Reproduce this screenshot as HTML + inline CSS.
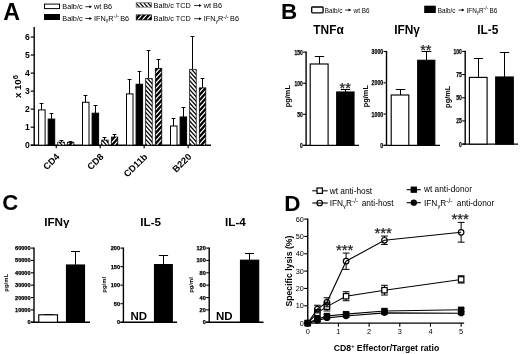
<!DOCTYPE html>
<html><head><meta charset="utf-8"><title>Figure</title>
<style>html,body{margin:0;padding:0;background:#fff;}svg{display:block;will-change:transform;filter:grayscale(1);}text{font-family:"Liberation Sans",sans-serif;}</style>
</head><body>
<svg width="520" height="354" viewBox="0 0 520 354">
<rect x="0" y="0" width="520" height="354" fill="#fff"/>

<text x="3.30" y="19.80" font-size="23.2" font-weight="bold" text-anchor="start" fill="#000" font-family="Liberation Sans, sans-serif" >A</text>
<rect x="44.50" y="4.10" width="15.00" height="4.50" fill="#fff" stroke="#000" stroke-width="1"/>
<rect x="44.00" y="14.00" width="16.00" height="6.00" fill="#000" stroke="none" stroke-width="0"/>
<text x="62.30" y="9.10" font-size="7.3" font-weight="normal" text-anchor="start" fill="#000" font-family="Liberation Sans, sans-serif" >Balb/c</text>
<line x1="85.30" y1="6.69" x2="91.00" y2="6.69" stroke="#000" stroke-width="0.8"/>
<path d="M92.00,6.69 L89.40,5.19 L89.40,8.19 Z" fill="#000"/>
<text x="93.90" y="9.10" font-size="7.3" font-weight="normal" text-anchor="start" fill="#000" font-family="Liberation Sans, sans-serif" >wt B6</text>
<text x="62.30" y="20.90" font-size="7.3" font-weight="normal" text-anchor="start" fill="#000" font-family="Liberation Sans, sans-serif" >Balb/c</text>
<line x1="85.30" y1="18.49" x2="91.00" y2="18.49" stroke="#000" stroke-width="0.8"/>
<path d="M92.00,18.49 L89.40,16.99 L89.40,19.99 Z" fill="#000"/>
<text x="93.90" y="20.90" font-size="7.3" font-weight="normal" text-anchor="start" fill="#000" font-family="Liberation Sans, sans-serif" >IFN<tspan font-size="70%" dy="1.5">γ</tspan><tspan dy="-1.5">R</tspan><tspan font-size="80%" dy="-2.6">-/-</tspan><tspan dy="2.6" dx="-0.8"> </tspan>B6</text>
<clipPath id="c1"><rect x="136.20" y="2.80" width="15.30" height="4.30"/></clipPath>
<rect x="136.20" y="2.80" width="15.30" height="4.30" fill="#fff"/>
<path d="M131.70,2.80L135.57,7.10M135.74,2.80L139.61,7.10M139.78,2.80L143.65,7.10M143.81,2.80L147.68,7.10M147.85,2.80L151.72,7.10M151.89,2.80L155.76,7.10" stroke="#000" stroke-width="1.25" fill="none" clip-path="url(#c1)"/>
<rect x="136.20" y="2.80" width="15.30" height="4.30" fill="none" stroke="#444" stroke-width="0.7"/>
<clipPath id="c2"><rect x="136.20" y="14.90" width="15.30" height="5.00"/></clipPath>
<rect x="136.20" y="14.90" width="15.30" height="5.00" fill="#000"/>
<path d="M137.29,14.90L132.79,19.90M142.00,14.90L137.50,19.90M146.71,14.90L142.21,19.90M151.42,14.90L146.92,19.90M156.13,14.90L151.63,19.90" stroke="#fff" stroke-width="1.2" fill="none" clip-path="url(#c2)"/>
<rect x="136.20" y="14.90" width="15.30" height="5.00" fill="none" stroke="#000" stroke-width="0.7"/>
<text x="153.60" y="7.90" font-size="7.3" font-weight="normal" text-anchor="start" fill="#000" font-family="Liberation Sans, sans-serif" >Balb/c TCD</text>
<line x1="194.20" y1="5.49" x2="200.60" y2="5.49" stroke="#000" stroke-width="0.8"/>
<path d="M201.60,5.49 L199.00,3.99 L199.00,6.99 Z" fill="#000"/>
<text x="203.70" y="7.90" font-size="7.3" font-weight="normal" text-anchor="start" fill="#000" font-family="Liberation Sans, sans-serif" >wt B6</text>
<text x="153.60" y="21.10" font-size="7.3" font-weight="normal" text-anchor="start" fill="#000" font-family="Liberation Sans, sans-serif" >Balb/c TCD</text>
<line x1="194.20" y1="18.69" x2="200.60" y2="18.69" stroke="#000" stroke-width="0.8"/>
<path d="M201.60,18.69 L199.00,17.19 L199.00,20.19 Z" fill="#000"/>
<text x="203.70" y="21.10" font-size="7.3" font-weight="normal" text-anchor="start" fill="#000" font-family="Liberation Sans, sans-serif" >IFN<tspan font-size="70%" dy="1.5">γ</tspan><tspan dy="-1.5">R</tspan><tspan font-size="80%" dy="-2.6">-/-</tspan><tspan dy="2.6" dx="-0.8"> </tspan>B6</text>
<line x1="34.20" y1="27.00" x2="34.20" y2="145.80" stroke="#000" stroke-width="1.4"/>
<line x1="30.70" y1="145.20" x2="211.00" y2="145.20" stroke="#000" stroke-width="1.4"/>
<line x1="30.70" y1="145.20" x2="34.20" y2="145.20" stroke="#000" stroke-width="1.2"/>
<text x="29.70" y="148.30" font-size="8.6" font-weight="bold" text-anchor="end" fill="#000" font-family="Liberation Sans, sans-serif" >0</text>
<line x1="30.70" y1="127.17" x2="34.20" y2="127.17" stroke="#000" stroke-width="1.2"/>
<text x="29.70" y="130.27" font-size="8.6" font-weight="bold" text-anchor="end" fill="#000" font-family="Liberation Sans, sans-serif" >1</text>
<line x1="30.70" y1="109.14" x2="34.20" y2="109.14" stroke="#000" stroke-width="1.2"/>
<text x="29.70" y="112.24" font-size="8.6" font-weight="bold" text-anchor="end" fill="#000" font-family="Liberation Sans, sans-serif" >2</text>
<line x1="30.70" y1="91.11" x2="34.20" y2="91.11" stroke="#000" stroke-width="1.2"/>
<text x="29.70" y="94.21" font-size="8.6" font-weight="bold" text-anchor="end" fill="#000" font-family="Liberation Sans, sans-serif" >3</text>
<line x1="30.70" y1="73.08" x2="34.20" y2="73.08" stroke="#000" stroke-width="1.2"/>
<text x="29.70" y="76.18" font-size="8.6" font-weight="bold" text-anchor="end" fill="#000" font-family="Liberation Sans, sans-serif" >4</text>
<line x1="30.70" y1="55.05" x2="34.20" y2="55.05" stroke="#000" stroke-width="1.2"/>
<text x="29.70" y="58.15" font-size="8.6" font-weight="bold" text-anchor="end" fill="#000" font-family="Liberation Sans, sans-serif" >5</text>
<line x1="30.70" y1="37.02" x2="34.20" y2="37.02" stroke="#000" stroke-width="1.2"/>
<text x="29.70" y="40.12" font-size="8.6" font-weight="bold" text-anchor="end" fill="#000" font-family="Liberation Sans, sans-serif" >6</text>
<text transform="translate(21.40,86.60) rotate(-90)" font-size="9.6" font-weight="bold" text-anchor="middle" font-family="Liberation Sans, sans-serif">x 10<tspan font-size="78%" dy="-3.2">6</tspan></text>
<line x1="41.50" y1="103.50" x2="41.50" y2="109.90" stroke="#000" stroke-width="1"/>
<line x1="39.60" y1="103.50" x2="43.40" y2="103.50" stroke="#000" stroke-width="1"/>
<rect x="38.60" y="109.90" width="6.50" height="35.30" fill="#fff" stroke="#000" stroke-width="1"/>
<line x1="51.50" y1="113.50" x2="51.50" y2="119.09" stroke="#000" stroke-width="1"/>
<line x1="49.60" y1="113.50" x2="53.40" y2="113.50" stroke="#000" stroke-width="1"/>
<rect x="48.20" y="119.09" width="6.50" height="26.11" fill="#000" stroke="#000" stroke-width="1"/>
<line x1="61.50" y1="140.50" x2="61.50" y2="142.10" stroke="#000" stroke-width="1"/>
<line x1="59.60" y1="140.50" x2="63.40" y2="140.50" stroke="#000" stroke-width="1"/>
<clipPath id="c3"><rect x="57.80" y="142.10" width="6.50" height="3.10"/></clipPath>
<rect x="57.80" y="142.10" width="6.50" height="3.10" fill="#fff"/>
<path d="M55.28,142.10L58.07,145.20M59.32,142.10L62.11,145.20M63.36,142.10L66.15,145.20" stroke="#000" stroke-width="1.25" fill="none" clip-path="url(#c3)"/>
<rect x="57.80" y="142.10" width="6.50" height="3.10" fill="none" stroke="#000" stroke-width="0.75"/>
<line x1="70.50" y1="141.50" x2="70.50" y2="142.32" stroke="#000" stroke-width="1"/>
<line x1="68.60" y1="141.50" x2="72.40" y2="141.50" stroke="#000" stroke-width="1"/>
<clipPath id="c4"><rect x="67.40" y="142.32" width="6.50" height="2.88"/></clipPath>
<rect x="67.40" y="142.32" width="6.50" height="2.88" fill="#000"/>
<path d="M69.67,142.32L67.07,145.20M74.38,142.32L71.78,145.20" stroke="#fff" stroke-width="1.2" fill="none" clip-path="url(#c4)"/>
<rect x="67.40" y="142.32" width="6.50" height="2.88" fill="none" stroke="#000" stroke-width="0.75"/>
<line x1="56.25" y1="145.20" x2="56.25" y2="148.20" stroke="#000" stroke-width="1.2"/>
<text transform="translate(60.15,157.40) rotate(-45)" font-size="9.3" font-weight="bold" text-anchor="end" font-family="Liberation Sans, sans-serif">CD4</text>
<line x1="85.50" y1="95.50" x2="85.50" y2="102.29" stroke="#000" stroke-width="1"/>
<line x1="83.60" y1="95.50" x2="87.40" y2="95.50" stroke="#000" stroke-width="1"/>
<rect x="82.50" y="102.29" width="6.50" height="42.91" fill="#fff" stroke="#000" stroke-width="1"/>
<line x1="95.50" y1="105.50" x2="95.50" y2="113.20" stroke="#000" stroke-width="1"/>
<line x1="93.60" y1="105.50" x2="97.40" y2="105.50" stroke="#000" stroke-width="1"/>
<rect x="92.10" y="113.20" width="6.50" height="32.00" fill="#000" stroke="#000" stroke-width="1"/>
<line x1="104.50" y1="137.50" x2="104.50" y2="140.10" stroke="#000" stroke-width="1"/>
<line x1="102.60" y1="137.50" x2="106.40" y2="137.50" stroke="#000" stroke-width="1"/>
<clipPath id="c5"><rect x="101.70" y="140.10" width="6.50" height="5.10"/></clipPath>
<rect x="101.70" y="140.10" width="6.50" height="5.10" fill="#fff"/>
<path d="M97.89,140.10L102.48,145.20M101.92,140.10L106.52,145.20M105.96,140.10L110.55,145.20" stroke="#000" stroke-width="1.25" fill="none" clip-path="url(#c5)"/>
<rect x="101.70" y="140.10" width="6.50" height="5.10" fill="none" stroke="#000" stroke-width="0.75"/>
<line x1="114.50" y1="134.50" x2="114.50" y2="137.00" stroke="#000" stroke-width="1"/>
<line x1="112.60" y1="134.50" x2="116.40" y2="134.50" stroke="#000" stroke-width="1"/>
<clipPath id="c6"><rect x="111.30" y="137.00" width="6.50" height="8.20"/></clipPath>
<rect x="111.30" y="137.00" width="6.50" height="8.20" fill="#000"/>
<path d="M112.13,137.00L104.75,145.20M116.84,137.00L109.46,145.20M121.55,137.00L114.17,145.20" stroke="#fff" stroke-width="1.2" fill="none" clip-path="url(#c6)"/>
<rect x="111.30" y="137.00" width="6.50" height="8.20" fill="none" stroke="#000" stroke-width="0.75"/>
<line x1="100.15" y1="145.20" x2="100.15" y2="148.20" stroke="#000" stroke-width="1.2"/>
<text transform="translate(104.05,157.40) rotate(-45)" font-size="9.3" font-weight="bold" text-anchor="end" font-family="Liberation Sans, sans-serif">CD8</text>
<line x1="129.50" y1="79.50" x2="129.50" y2="93.90" stroke="#000" stroke-width="1"/>
<line x1="127.60" y1="79.50" x2="131.40" y2="79.50" stroke="#000" stroke-width="1"/>
<rect x="126.50" y="93.90" width="6.50" height="51.30" fill="#fff" stroke="#000" stroke-width="1"/>
<line x1="139.50" y1="71.50" x2="139.50" y2="84.26" stroke="#000" stroke-width="1"/>
<line x1="137.60" y1="71.50" x2="141.40" y2="71.50" stroke="#000" stroke-width="1"/>
<rect x="136.10" y="84.26" width="6.50" height="60.94" fill="#000" stroke="#000" stroke-width="1"/>
<line x1="148.50" y1="50.50" x2="148.50" y2="78.40" stroke="#000" stroke-width="1"/>
<line x1="146.60" y1="50.50" x2="150.40" y2="50.50" stroke="#000" stroke-width="1"/>
<clipPath id="c7"><rect x="145.70" y="78.40" width="6.50" height="66.80"/></clipPath>
<rect x="145.70" y="78.40" width="6.50" height="66.80" fill="#fff"/>
<path d="M86.74,78.40L146.89,145.20M90.78,78.40L150.92,145.20M94.81,78.40L154.96,145.20M98.85,78.40L159.00,145.20M102.89,78.40L163.03,145.20M106.92,78.40L167.07,145.20M110.96,78.40L171.11,145.20M115.00,78.40L175.14,145.20M119.03,78.40L179.18,145.20M123.07,78.40L183.22,145.20M127.11,78.40L187.26,145.20M131.14,78.40L191.29,145.20M135.18,78.40L195.33,145.20M139.22,78.40L199.37,145.20M143.25,78.40L203.40,145.20M147.29,78.40L207.44,145.20M151.33,78.40L211.48,145.20" stroke="#000" stroke-width="1.25" fill="none" clip-path="url(#c7)"/>
<rect x="145.70" y="78.40" width="6.50" height="66.80" fill="none" stroke="#000" stroke-width="0.75"/>
<line x1="158.50" y1="59.50" x2="158.50" y2="68.30" stroke="#000" stroke-width="1"/>
<line x1="156.60" y1="59.50" x2="160.40" y2="59.50" stroke="#000" stroke-width="1"/>
<clipPath id="c8"><rect x="155.30" y="68.30" width="6.50" height="76.90"/></clipPath>
<rect x="155.30" y="68.30" width="6.50" height="76.90" fill="#000"/>
<path d="M155.15,68.30L85.91,145.20M159.86,68.30L90.62,145.20M164.57,68.30L95.33,145.20M169.28,68.30L100.04,145.20M173.99,68.30L104.75,145.20M178.70,68.30L109.46,145.20M183.41,68.30L114.17,145.20M188.12,68.30L118.88,145.20M192.83,68.30L123.59,145.20M197.53,68.30L128.30,145.20M202.24,68.30L133.01,145.20M206.95,68.30L137.72,145.20M211.66,68.30L142.42,145.20M216.37,68.30L147.13,145.20M221.08,68.30L151.84,145.20M225.79,68.30L156.55,145.20M230.50,68.30L161.26,145.20" stroke="#fff" stroke-width="1.2" fill="none" clip-path="url(#c8)"/>
<rect x="155.30" y="68.30" width="6.50" height="76.90" fill="none" stroke="#000" stroke-width="0.75"/>
<line x1="144.15" y1="145.20" x2="144.15" y2="148.20" stroke="#000" stroke-width="1.2"/>
<text transform="translate(148.05,157.40) rotate(-45)" font-size="9.3" font-weight="bold" text-anchor="end" font-family="Liberation Sans, sans-serif">CD11b</text>
<line x1="173.50" y1="118.50" x2="173.50" y2="126.00" stroke="#000" stroke-width="1"/>
<line x1="171.60" y1="118.50" x2="175.40" y2="118.50" stroke="#000" stroke-width="1"/>
<rect x="170.50" y="126.00" width="6.50" height="19.20" fill="#fff" stroke="#000" stroke-width="1"/>
<line x1="183.50" y1="107.50" x2="183.50" y2="116.98" stroke="#000" stroke-width="1"/>
<line x1="181.60" y1="107.50" x2="185.40" y2="107.50" stroke="#000" stroke-width="1"/>
<rect x="180.10" y="116.98" width="6.50" height="28.22" fill="#000" stroke="#000" stroke-width="1"/>
<line x1="192.50" y1="36.50" x2="192.50" y2="69.29" stroke="#000" stroke-width="1"/>
<line x1="190.60" y1="36.50" x2="194.40" y2="36.50" stroke="#000" stroke-width="1"/>
<clipPath id="c9"><rect x="189.70" y="69.29" width="6.50" height="75.91"/></clipPath>
<rect x="189.70" y="69.29" width="6.50" height="75.91" fill="#fff"/>
<path d="M122.95,69.29L191.29,145.20M126.98,69.29L195.33,145.20M131.02,69.29L199.37,145.20M135.06,69.29L203.40,145.20M139.09,69.29L207.44,145.20M143.13,69.29L211.48,145.20M147.17,69.29L215.51,145.20M151.20,69.29L219.55,145.20M155.24,69.29L223.59,145.20M159.28,69.29L227.62,145.20M163.31,69.29L231.66,145.20M167.35,69.29L235.70,145.20M171.39,69.29L239.73,145.20M175.43,69.29L243.77,145.20M179.46,69.29L247.81,145.20M183.50,69.29L251.85,145.20M187.54,69.29L255.88,145.20M191.57,69.29L259.92,145.20M195.61,69.29L263.96,145.20" stroke="#000" stroke-width="1.25" fill="none" clip-path="url(#c9)"/>
<rect x="189.70" y="69.29" width="6.50" height="75.91" fill="none" stroke="#000" stroke-width="0.75"/>
<line x1="202.50" y1="78.50" x2="202.50" y2="87.86" stroke="#000" stroke-width="1"/>
<line x1="200.60" y1="78.50" x2="204.40" y2="78.50" stroke="#000" stroke-width="1"/>
<clipPath id="c10"><rect x="199.30" y="87.86" width="6.50" height="57.34"/></clipPath>
<rect x="199.30" y="87.86" width="6.50" height="57.34" fill="#000"/>
<path d="M198.76,87.86L147.13,145.20M203.47,87.86L151.84,145.20M208.18,87.86L156.55,145.20M212.89,87.86L161.26,145.20M217.60,87.86L165.97,145.20M222.31,87.86L170.68,145.20M227.02,87.86L175.39,145.20M231.73,87.86L180.10,145.20M236.44,87.86L184.81,145.20M241.15,87.86L189.52,145.20M245.86,87.86L194.23,145.20M250.57,87.86L198.94,145.20M255.28,87.86L203.65,145.20" stroke="#fff" stroke-width="1.2" fill="none" clip-path="url(#c10)"/>
<rect x="199.30" y="87.86" width="6.50" height="57.34" fill="none" stroke="#000" stroke-width="0.75"/>
<line x1="188.15" y1="145.20" x2="188.15" y2="148.20" stroke="#000" stroke-width="1.2"/>
<text transform="translate(192.05,157.40) rotate(-45)" font-size="9.3" font-weight="bold" text-anchor="end" font-family="Liberation Sans, sans-serif">B220</text>
<text x="281.00" y="18.60" font-size="22.4" font-weight="bold" text-anchor="start" fill="#000" font-family="Liberation Sans, sans-serif" >B</text>
<rect x="311.7" y="7.0" width="11.4" height="5.8" rx="0.8" fill="#fff" stroke="#000" stroke-width="1.3"/>
<text transform="translate(324.80,12.60) scale(0.84,1)" font-size="7.6" font-family="Liberation Sans, sans-serif">Balb/c</text>
<line x1="345.20" y1="10.09" x2="350.20" y2="10.09" stroke="#000" stroke-width="0.8"/>
<path d="M351.20,10.09 L348.60,8.59 L348.60,11.59 Z" fill="#000"/>
<text transform="translate(353.60,12.60) scale(0.84,1)" font-size="7.6" font-family="Liberation Sans, sans-serif">wt B6</text>
<rect x="424.20" y="5.70" width="11.60" height="7.30" fill="#000" stroke="none" stroke-width="0"/>
<text transform="translate(437.80,12.60) scale(0.84,1)" font-size="7.6" font-family="Liberation Sans, sans-serif">Balb/c</text>
<line x1="458.40" y1="10.09" x2="463.40" y2="10.09" stroke="#000" stroke-width="0.8"/>
<path d="M464.40,10.09 L461.80,8.59 L461.80,11.59 Z" fill="#000"/>
<text transform="translate(466.50,12.60) scale(0.84,1)" font-size="7.6" font-family="Liberation Sans, sans-serif">IFN<tspan font-size="70%" dy="1.5">γ</tspan><tspan dy="-1.5">R</tspan><tspan font-size="80%" dy="-2.6">-/-</tspan><tspan dy="2.6" dx="-0.8"> </tspan>B6</text>
<line x1="306.10" y1="51.50" x2="306.10" y2="146.00" stroke="#000" stroke-width="1.4"/>
<line x1="303.10" y1="145.40" x2="359.00" y2="145.40" stroke="#000" stroke-width="1.4"/>
<line x1="303.10" y1="145.40" x2="306.10" y2="145.40" stroke="#000" stroke-width="1.1"/>
<text x="302.80" y="147.92" font-size="7" font-weight="bold" text-anchor="end" fill="#000" font-family="Liberation Sans, sans-serif" stroke="#000" stroke-width="0.25" textLength="2.75" lengthAdjust="spacingAndGlyphs">0</text>
<line x1="303.10" y1="114.30" x2="306.10" y2="114.30" stroke="#000" stroke-width="1.1"/>
<text x="302.80" y="116.82" font-size="7" font-weight="bold" text-anchor="end" fill="#000" font-family="Liberation Sans, sans-serif" stroke="#000" stroke-width="0.25" textLength="5.50" lengthAdjust="spacingAndGlyphs">50</text>
<line x1="303.10" y1="83.20" x2="306.10" y2="83.20" stroke="#000" stroke-width="1.1"/>
<text x="302.80" y="85.72" font-size="7" font-weight="bold" text-anchor="end" fill="#000" font-family="Liberation Sans, sans-serif" stroke="#000" stroke-width="0.25" textLength="8.25" lengthAdjust="spacingAndGlyphs">100</text>
<line x1="303.10" y1="52.10" x2="306.10" y2="52.10" stroke="#000" stroke-width="1.1"/>
<text x="302.80" y="54.62" font-size="7" font-weight="bold" text-anchor="end" fill="#000" font-family="Liberation Sans, sans-serif" stroke="#000" stroke-width="0.25" textLength="8.25" lengthAdjust="spacingAndGlyphs">150</text>
<text x="328.50" y="33.60" font-size="11.9" font-weight="bold" text-anchor="middle" fill="#000" font-family="Liberation Sans, sans-serif" >TNFα</text>
<text transform="translate(290.00,96.20) rotate(-90)" font-size="7.4" font-weight="bold" text-anchor="middle" font-family="Liberation Sans, sans-serif">pg/mL</text>
<line x1="319.50" y1="56.50" x2="319.50" y2="64.00" stroke="#000" stroke-width="1"/>
<line x1="314.80" y1="56.50" x2="324.20" y2="56.50" stroke="#000" stroke-width="1"/>
<rect x="310.20" y="64.00" width="17.90" height="81.40" fill="#fff" stroke="#000" stroke-width="1.15"/>
<line x1="345.50" y1="89.50" x2="345.50" y2="92.00" stroke="#000" stroke-width="1"/>
<line x1="340.80" y1="89.50" x2="350.20" y2="89.50" stroke="#000" stroke-width="1"/>
<rect x="336.70" y="92.00" width="17.30" height="53.40" fill="#000" stroke="#000" stroke-width="1.15"/>
<text x="345.20" y="93.20" font-size="14.4" font-weight="normal" text-anchor="middle" fill="#222" font-family="Liberation Sans, sans-serif" stroke="#222" stroke-width="0.25">**</text>
<line x1="386.50" y1="50.90" x2="386.50" y2="146.00" stroke="#000" stroke-width="1.4"/>
<line x1="383.50" y1="145.40" x2="440.00" y2="145.40" stroke="#000" stroke-width="1.4"/>
<line x1="383.50" y1="145.40" x2="386.50" y2="145.40" stroke="#000" stroke-width="1.1"/>
<text x="383.20" y="147.92" font-size="7" font-weight="bold" text-anchor="end" fill="#000" font-family="Liberation Sans, sans-serif" stroke="#000" stroke-width="0.25" textLength="2.90" lengthAdjust="spacingAndGlyphs">0</text>
<line x1="383.50" y1="114.10" x2="386.50" y2="114.10" stroke="#000" stroke-width="1.1"/>
<text x="383.20" y="116.62" font-size="7" font-weight="bold" text-anchor="end" fill="#000" font-family="Liberation Sans, sans-serif" stroke="#000" stroke-width="0.25" textLength="11.60" lengthAdjust="spacingAndGlyphs">1000</text>
<line x1="383.50" y1="82.80" x2="386.50" y2="82.80" stroke="#000" stroke-width="1.1"/>
<text x="383.20" y="85.32" font-size="7" font-weight="bold" text-anchor="end" fill="#000" font-family="Liberation Sans, sans-serif" stroke="#000" stroke-width="0.25" textLength="11.60" lengthAdjust="spacingAndGlyphs">2000</text>
<line x1="383.50" y1="51.50" x2="386.50" y2="51.50" stroke="#000" stroke-width="1.1"/>
<text x="383.20" y="54.02" font-size="7" font-weight="bold" text-anchor="end" fill="#000" font-family="Liberation Sans, sans-serif" stroke="#000" stroke-width="0.25" textLength="11.60" lengthAdjust="spacingAndGlyphs">3000</text>
<text x="407.10" y="33.60" font-size="11.9" font-weight="bold" text-anchor="middle" fill="#000" font-family="Liberation Sans, sans-serif" >IFNγ</text>
<text transform="translate(367.50,96.20) rotate(-90)" font-size="7.4" font-weight="bold" text-anchor="middle" font-family="Liberation Sans, sans-serif">pg/mL</text>
<line x1="400.50" y1="89.50" x2="400.50" y2="95.00" stroke="#000" stroke-width="1"/>
<line x1="395.75" y1="89.50" x2="405.25" y2="89.50" stroke="#000" stroke-width="1"/>
<rect x="391.20" y="95.00" width="17.60" height="50.40" fill="#fff" stroke="#000" stroke-width="1.15"/>
<line x1="426.50" y1="51.50" x2="426.50" y2="60.30" stroke="#000" stroke-width="1"/>
<line x1="421.65" y1="51.50" x2="431.35" y2="51.50" stroke="#000" stroke-width="1"/>
<rect x="417.70" y="60.30" width="17.10" height="85.10" fill="#000" stroke="#000" stroke-width="1.15"/>
<text x="425.80" y="55.20" font-size="14.4" font-weight="normal" text-anchor="middle" fill="#222" font-family="Liberation Sans, sans-serif" stroke="#222" stroke-width="0.25">**</text>
<line x1="465.20" y1="50.80" x2="465.20" y2="144.70" stroke="#000" stroke-width="1.4"/>
<line x1="462.20" y1="144.10" x2="518.00" y2="144.10" stroke="#000" stroke-width="1.4"/>
<line x1="462.20" y1="144.10" x2="465.20" y2="144.10" stroke="#000" stroke-width="1.1"/>
<text x="461.90" y="146.62" font-size="7" font-weight="bold" text-anchor="end" fill="#000" font-family="Liberation Sans, sans-serif" stroke="#000" stroke-width="0.25" textLength="2.80" lengthAdjust="spacingAndGlyphs">0</text>
<line x1="462.20" y1="120.92" x2="465.20" y2="120.92" stroke="#000" stroke-width="1.1"/>
<text x="461.90" y="123.44" font-size="7" font-weight="bold" text-anchor="end" fill="#000" font-family="Liberation Sans, sans-serif" stroke="#000" stroke-width="0.25" textLength="5.60" lengthAdjust="spacingAndGlyphs">25</text>
<line x1="462.20" y1="97.75" x2="465.20" y2="97.75" stroke="#000" stroke-width="1.1"/>
<text x="461.90" y="100.27" font-size="7" font-weight="bold" text-anchor="end" fill="#000" font-family="Liberation Sans, sans-serif" stroke="#000" stroke-width="0.25" textLength="5.60" lengthAdjust="spacingAndGlyphs">50</text>
<line x1="462.20" y1="74.58" x2="465.20" y2="74.58" stroke="#000" stroke-width="1.1"/>
<text x="461.90" y="77.09" font-size="7" font-weight="bold" text-anchor="end" fill="#000" font-family="Liberation Sans, sans-serif" stroke="#000" stroke-width="0.25" textLength="5.60" lengthAdjust="spacingAndGlyphs">75</text>
<line x1="462.20" y1="51.40" x2="465.20" y2="51.40" stroke="#000" stroke-width="1.1"/>
<text x="461.90" y="53.92" font-size="7" font-weight="bold" text-anchor="end" fill="#000" font-family="Liberation Sans, sans-serif" stroke="#000" stroke-width="0.25" textLength="8.40" lengthAdjust="spacingAndGlyphs">100</text>
<text x="487.80" y="33.60" font-size="11.9" font-weight="bold" text-anchor="middle" fill="#000" font-family="Liberation Sans, sans-serif" >IL-5</text>
<text transform="translate(450.00,96.80) rotate(-90)" font-size="7.4" font-weight="bold" text-anchor="middle" font-family="Liberation Sans, sans-serif">pg/mL</text>
<line x1="478.50" y1="58.50" x2="478.50" y2="77.40" stroke="#000" stroke-width="1"/>
<line x1="473.85" y1="58.50" x2="483.15" y2="58.50" stroke="#000" stroke-width="1"/>
<rect x="469.40" y="77.40" width="17.70" height="66.70" fill="#fff" stroke="#000" stroke-width="1.15"/>
<line x1="504.50" y1="52.50" x2="504.50" y2="77.00" stroke="#000" stroke-width="1"/>
<line x1="499.85" y1="52.50" x2="509.15" y2="52.50" stroke="#000" stroke-width="1"/>
<rect x="495.70" y="77.00" width="17.60" height="67.10" fill="#000" stroke="#000" stroke-width="1.15"/>
<text x="2.30" y="210.00" font-size="22.2" font-weight="bold" text-anchor="start" fill="#000" font-family="Liberation Sans, sans-serif" >C</text>
<line x1="34.00" y1="247.50" x2="34.00" y2="322.85" stroke="#000" stroke-width="1.4"/>
<line x1="31.00" y1="322.25" x2="90.00" y2="322.25" stroke="#000" stroke-width="1.4"/>
<line x1="31.00" y1="322.25" x2="34.00" y2="322.25" stroke="#000" stroke-width="1.1"/>
<text x="30.60" y="324.27" font-size="5.6" font-weight="bold" text-anchor="end" fill="#000" font-family="Liberation Sans, sans-serif" stroke="#000" stroke-width="0.25" >0</text>
<line x1="31.00" y1="309.89" x2="34.00" y2="309.89" stroke="#000" stroke-width="1.1"/>
<text x="30.60" y="311.91" font-size="5.6" font-weight="bold" text-anchor="end" fill="#000" font-family="Liberation Sans, sans-serif" stroke="#000" stroke-width="0.25" >10000</text>
<line x1="31.00" y1="297.53" x2="34.00" y2="297.53" stroke="#000" stroke-width="1.1"/>
<text x="30.60" y="299.55" font-size="5.6" font-weight="bold" text-anchor="end" fill="#000" font-family="Liberation Sans, sans-serif" stroke="#000" stroke-width="0.25" >20000</text>
<line x1="31.00" y1="285.18" x2="34.00" y2="285.18" stroke="#000" stroke-width="1.1"/>
<text x="30.60" y="287.19" font-size="5.6" font-weight="bold" text-anchor="end" fill="#000" font-family="Liberation Sans, sans-serif" stroke="#000" stroke-width="0.25" >30000</text>
<line x1="31.00" y1="272.82" x2="34.00" y2="272.82" stroke="#000" stroke-width="1.1"/>
<text x="30.60" y="274.83" font-size="5.6" font-weight="bold" text-anchor="end" fill="#000" font-family="Liberation Sans, sans-serif" stroke="#000" stroke-width="0.25" >40000</text>
<line x1="31.00" y1="260.46" x2="34.00" y2="260.46" stroke="#000" stroke-width="1.1"/>
<text x="30.60" y="262.47" font-size="5.6" font-weight="bold" text-anchor="end" fill="#000" font-family="Liberation Sans, sans-serif" stroke="#000" stroke-width="0.25" >50000</text>
<line x1="31.00" y1="248.10" x2="34.00" y2="248.10" stroke="#000" stroke-width="1.1"/>
<text x="30.60" y="250.12" font-size="5.6" font-weight="bold" text-anchor="end" fill="#000" font-family="Liberation Sans, sans-serif" stroke="#000" stroke-width="0.25" >60000</text>
<text x="56.90" y="226.20" font-size="11.7" font-weight="bold" text-anchor="middle" fill="#000" font-family="Liberation Sans, sans-serif" >IFNγ</text>
<text transform="translate(7.70,282.80) rotate(-90)" font-size="5.9" font-weight="bold" text-anchor="middle" font-family="Liberation Sans, sans-serif">pg/mL</text>
<line x1="48.50" y1="314.50" x2="48.50" y2="314.80" stroke="#000" stroke-width="1"/>
<line x1="44.00" y1="314.50" x2="53.00" y2="314.50" stroke="#000" stroke-width="1"/>
<rect x="38.75" y="314.80" width="18.75" height="7.45" fill="#fff" stroke="#000" stroke-width="1.15"/>
<line x1="75.50" y1="251.50" x2="75.50" y2="265.00" stroke="#000" stroke-width="1"/>
<line x1="71.00" y1="251.50" x2="80.00" y2="251.50" stroke="#000" stroke-width="1"/>
<rect x="66.50" y="265.00" width="18.00" height="57.25" fill="#000" stroke="#000" stroke-width="1.15"/>
<line x1="123.40" y1="247.50" x2="123.40" y2="322.85" stroke="#000" stroke-width="1.4"/>
<line x1="120.40" y1="322.25" x2="177.00" y2="322.25" stroke="#000" stroke-width="1.4"/>
<line x1="120.40" y1="322.25" x2="123.40" y2="322.25" stroke="#000" stroke-width="1.1"/>
<text x="120.00" y="324.27" font-size="5.6" font-weight="bold" text-anchor="end" fill="#000" font-family="Liberation Sans, sans-serif" stroke="#000" stroke-width="0.25" >0</text>
<line x1="120.40" y1="303.71" x2="123.40" y2="303.71" stroke="#000" stroke-width="1.1"/>
<text x="120.00" y="305.73" font-size="5.6" font-weight="bold" text-anchor="end" fill="#000" font-family="Liberation Sans, sans-serif" stroke="#000" stroke-width="0.25" >50</text>
<line x1="120.40" y1="285.18" x2="123.40" y2="285.18" stroke="#000" stroke-width="1.1"/>
<text x="120.00" y="287.19" font-size="5.6" font-weight="bold" text-anchor="end" fill="#000" font-family="Liberation Sans, sans-serif" stroke="#000" stroke-width="0.25" >100</text>
<line x1="120.40" y1="266.64" x2="123.40" y2="266.64" stroke="#000" stroke-width="1.1"/>
<text x="120.00" y="268.65" font-size="5.6" font-weight="bold" text-anchor="end" fill="#000" font-family="Liberation Sans, sans-serif" stroke="#000" stroke-width="0.25" >150</text>
<line x1="120.40" y1="248.10" x2="123.40" y2="248.10" stroke="#000" stroke-width="1.1"/>
<text x="120.00" y="250.12" font-size="5.6" font-weight="bold" text-anchor="end" fill="#000" font-family="Liberation Sans, sans-serif" stroke="#000" stroke-width="0.25" >200</text>
<text x="150.70" y="226.20" font-size="11.7" font-weight="bold" text-anchor="middle" fill="#000" font-family="Liberation Sans, sans-serif" >IL-5</text>
<text transform="translate(106.00,284.80) rotate(-90)" font-size="5.9" font-weight="bold" text-anchor="middle" font-family="Liberation Sans, sans-serif">pg/ml</text>
<line x1="163.50" y1="255.50" x2="163.50" y2="264.60" stroke="#000" stroke-width="1"/>
<line x1="158.90" y1="255.50" x2="168.10" y2="255.50" stroke="#000" stroke-width="1"/>
<rect x="154.50" y="264.60" width="17.80" height="57.65" fill="#000" stroke="#000" stroke-width="1.15"/>
<text x="138.80" y="319.80" font-size="11.5" font-weight="bold" text-anchor="middle" fill="#000" font-family="Liberation Sans, sans-serif" >ND</text>
<line x1="209.20" y1="247.50" x2="209.20" y2="322.85" stroke="#000" stroke-width="1.4"/>
<line x1="206.20" y1="322.25" x2="263.50" y2="322.25" stroke="#000" stroke-width="1.4"/>
<line x1="206.20" y1="322.25" x2="209.20" y2="322.25" stroke="#000" stroke-width="1.1"/>
<text x="205.80" y="324.27" font-size="5.6" font-weight="bold" text-anchor="end" fill="#000" font-family="Liberation Sans, sans-serif" stroke="#000" stroke-width="0.25" >0</text>
<line x1="206.20" y1="309.89" x2="209.20" y2="309.89" stroke="#000" stroke-width="1.1"/>
<text x="205.80" y="311.91" font-size="5.6" font-weight="bold" text-anchor="end" fill="#000" font-family="Liberation Sans, sans-serif" stroke="#000" stroke-width="0.25" >20</text>
<line x1="206.20" y1="297.53" x2="209.20" y2="297.53" stroke="#000" stroke-width="1.1"/>
<text x="205.80" y="299.55" font-size="5.6" font-weight="bold" text-anchor="end" fill="#000" font-family="Liberation Sans, sans-serif" stroke="#000" stroke-width="0.25" >40</text>
<line x1="206.20" y1="285.18" x2="209.20" y2="285.18" stroke="#000" stroke-width="1.1"/>
<text x="205.80" y="287.19" font-size="5.6" font-weight="bold" text-anchor="end" fill="#000" font-family="Liberation Sans, sans-serif" stroke="#000" stroke-width="0.25" >60</text>
<line x1="206.20" y1="272.82" x2="209.20" y2="272.82" stroke="#000" stroke-width="1.1"/>
<text x="205.80" y="274.83" font-size="5.6" font-weight="bold" text-anchor="end" fill="#000" font-family="Liberation Sans, sans-serif" stroke="#000" stroke-width="0.25" >80</text>
<line x1="206.20" y1="260.46" x2="209.20" y2="260.46" stroke="#000" stroke-width="1.1"/>
<text x="205.80" y="262.47" font-size="5.6" font-weight="bold" text-anchor="end" fill="#000" font-family="Liberation Sans, sans-serif" stroke="#000" stroke-width="0.25" >100</text>
<line x1="206.20" y1="248.10" x2="209.20" y2="248.10" stroke="#000" stroke-width="1.1"/>
<text x="205.80" y="250.12" font-size="5.6" font-weight="bold" text-anchor="end" fill="#000" font-family="Liberation Sans, sans-serif" stroke="#000" stroke-width="0.25" >120</text>
<text x="235.40" y="226.20" font-size="11.7" font-weight="bold" text-anchor="middle" fill="#000" font-family="Liberation Sans, sans-serif" >IL-4</text>
<text transform="translate(192.60,285.00) rotate(-90)" font-size="5.9" font-weight="bold" text-anchor="middle" font-family="Liberation Sans, sans-serif">pg/ml</text>
<line x1="249.50" y1="253.50" x2="249.50" y2="260.20" stroke="#000" stroke-width="1"/>
<line x1="245.00" y1="253.50" x2="254.00" y2="253.50" stroke="#000" stroke-width="1"/>
<rect x="240.50" y="260.20" width="18.20" height="62.05" fill="#000" stroke="#000" stroke-width="1.15"/>
<text x="224.20" y="319.80" font-size="11.5" font-weight="bold" text-anchor="middle" fill="#000" font-family="Liberation Sans, sans-serif" >ND</text>
<text x="284.30" y="211.10" font-size="22.5" font-weight="bold" text-anchor="start" fill="#000" font-family="Liberation Sans, sans-serif" >D</text>
<line x1="307.75" y1="218.50" x2="307.75" y2="323.70" stroke="#000" stroke-width="1.4"/>
<line x1="304.15" y1="323.10" x2="464.15" y2="323.10" stroke="#000" stroke-width="1.4"/>
<line x1="304.15" y1="323.10" x2="307.75" y2="323.10" stroke="#000" stroke-width="1.1"/>
<text x="303.75" y="325.75" font-size="7.3" font-weight="normal" text-anchor="end" fill="#000" font-family="Liberation Sans, sans-serif" >0</text>
<line x1="304.15" y1="305.77" x2="307.75" y2="305.77" stroke="#000" stroke-width="1.1"/>
<text x="303.75" y="308.42" font-size="7.3" font-weight="normal" text-anchor="end" fill="#000" font-family="Liberation Sans, sans-serif" >10</text>
<line x1="304.15" y1="288.43" x2="307.75" y2="288.43" stroke="#000" stroke-width="1.1"/>
<text x="303.75" y="291.08" font-size="7.3" font-weight="normal" text-anchor="end" fill="#000" font-family="Liberation Sans, sans-serif" >20</text>
<line x1="304.15" y1="271.10" x2="307.75" y2="271.10" stroke="#000" stroke-width="1.1"/>
<text x="303.75" y="273.75" font-size="7.3" font-weight="normal" text-anchor="end" fill="#000" font-family="Liberation Sans, sans-serif" >30</text>
<line x1="304.15" y1="253.77" x2="307.75" y2="253.77" stroke="#000" stroke-width="1.1"/>
<text x="303.75" y="256.42" font-size="7.3" font-weight="normal" text-anchor="end" fill="#000" font-family="Liberation Sans, sans-serif" >40</text>
<line x1="304.15" y1="236.44" x2="307.75" y2="236.44" stroke="#000" stroke-width="1.1"/>
<text x="303.75" y="239.09" font-size="7.3" font-weight="normal" text-anchor="end" fill="#000" font-family="Liberation Sans, sans-serif" >50</text>
<line x1="304.15" y1="219.10" x2="307.75" y2="219.10" stroke="#000" stroke-width="1.1"/>
<text x="303.75" y="221.75" font-size="7.3" font-weight="normal" text-anchor="end" fill="#000" font-family="Liberation Sans, sans-serif" >60</text>
<line x1="307.75" y1="323.10" x2="307.75" y2="326.70" stroke="#000" stroke-width="1.1"/>
<text x="307.75" y="334.30" font-size="7.4" font-weight="normal" text-anchor="middle" fill="#000" font-family="Liberation Sans, sans-serif" >0</text>
<line x1="338.43" y1="323.10" x2="338.43" y2="326.70" stroke="#000" stroke-width="1.1"/>
<text x="338.43" y="334.30" font-size="7.4" font-weight="normal" text-anchor="middle" fill="#000" font-family="Liberation Sans, sans-serif" >1</text>
<line x1="369.11" y1="323.10" x2="369.11" y2="326.70" stroke="#000" stroke-width="1.1"/>
<text x="369.11" y="334.30" font-size="7.4" font-weight="normal" text-anchor="middle" fill="#000" font-family="Liberation Sans, sans-serif" >2</text>
<line x1="399.79" y1="323.10" x2="399.79" y2="326.70" stroke="#000" stroke-width="1.1"/>
<text x="399.79" y="334.30" font-size="7.4" font-weight="normal" text-anchor="middle" fill="#000" font-family="Liberation Sans, sans-serif" >3</text>
<line x1="430.47" y1="323.10" x2="430.47" y2="326.70" stroke="#000" stroke-width="1.1"/>
<text x="430.47" y="334.30" font-size="7.4" font-weight="normal" text-anchor="middle" fill="#000" font-family="Liberation Sans, sans-serif" >4</text>
<line x1="461.15" y1="323.10" x2="461.15" y2="326.70" stroke="#000" stroke-width="1.1"/>
<text x="461.15" y="334.30" font-size="7.4" font-weight="normal" text-anchor="middle" fill="#000" font-family="Liberation Sans, sans-serif" >5</text>
<text transform="translate(292.40,271.10) rotate(-90)" font-size="8.7" font-weight="bold" text-anchor="middle" font-family="Liberation Sans, sans-serif">Specific lysis (%)</text>
<text x="386.50" y="350.90" font-size="8.7" font-weight="bold" text-anchor="middle" fill="#000" font-family="Liberation Sans, sans-serif" >CD8<tspan font-size="65%" dy="-3.3">+</tspan><tspan dy="3.3"> Effector/Target ratio</tspan></text>
<polyline points="307.75,323.10 317.34,312.87 326.93,306.63 346.10,296.23 384.45,290.17 461.15,279.42" fill="none" stroke="#000" stroke-width="1.1"/>
<line x1="317.34" y1="309.41" x2="317.34" y2="316.34" stroke="#000" stroke-width="1"/>
<line x1="313.94" y1="309.41" x2="320.74" y2="309.41" stroke="#000" stroke-width="1"/>
<line x1="313.94" y1="316.34" x2="320.74" y2="316.34" stroke="#000" stroke-width="1"/>
<line x1="326.93" y1="302.30" x2="326.93" y2="310.97" stroke="#000" stroke-width="1"/>
<line x1="323.53" y1="302.30" x2="330.32" y2="302.30" stroke="#000" stroke-width="1"/>
<line x1="323.53" y1="310.97" x2="330.32" y2="310.97" stroke="#000" stroke-width="1"/>
<line x1="346.10" y1="291.73" x2="346.10" y2="300.74" stroke="#000" stroke-width="1"/>
<line x1="342.70" y1="291.73" x2="349.50" y2="291.73" stroke="#000" stroke-width="1"/>
<line x1="342.70" y1="300.74" x2="349.50" y2="300.74" stroke="#000" stroke-width="1"/>
<line x1="384.45" y1="285.31" x2="384.45" y2="295.02" stroke="#000" stroke-width="1"/>
<line x1="381.05" y1="285.31" x2="387.85" y2="285.31" stroke="#000" stroke-width="1"/>
<line x1="381.05" y1="295.02" x2="387.85" y2="295.02" stroke="#000" stroke-width="1"/>
<line x1="461.15" y1="275.78" x2="461.15" y2="283.06" stroke="#000" stroke-width="1"/>
<line x1="457.75" y1="275.78" x2="464.55" y2="275.78" stroke="#000" stroke-width="1"/>
<line x1="457.75" y1="283.06" x2="464.55" y2="283.06" stroke="#000" stroke-width="1"/>
<rect x="305.05" y="320.40" width="5.40" height="5.40" fill="#fff" stroke="#000" stroke-width="1.25"/>
<rect x="314.64" y="310.17" width="5.40" height="5.40" fill="#fff" stroke="#000" stroke-width="1.25"/>
<rect x="324.23" y="303.93" width="5.40" height="5.40" fill="#fff" stroke="#000" stroke-width="1.25"/>
<rect x="343.40" y="293.53" width="5.40" height="5.40" fill="#fff" stroke="#000" stroke-width="1.25"/>
<rect x="381.75" y="287.47" width="5.40" height="5.40" fill="#fff" stroke="#000" stroke-width="1.25"/>
<rect x="458.45" y="276.72" width="5.40" height="5.40" fill="#fff" stroke="#000" stroke-width="1.25"/>
<polyline points="307.75,323.10 317.34,309.06 326.93,302.30 346.10,261.22 384.45,240.25 461.15,232.28" fill="none" stroke="#000" stroke-width="1.1"/>
<line x1="317.34" y1="305.25" x2="317.34" y2="306.31" stroke="#000" stroke-width="1"/>
<line x1="317.34" y1="311.81" x2="317.34" y2="312.87" stroke="#000" stroke-width="1"/>
<line x1="313.94" y1="305.25" x2="320.74" y2="305.25" stroke="#000" stroke-width="1"/>
<line x1="313.94" y1="312.87" x2="320.74" y2="312.87" stroke="#000" stroke-width="1"/>
<line x1="326.93" y1="297.79" x2="326.93" y2="299.55" stroke="#000" stroke-width="1"/>
<line x1="326.93" y1="305.05" x2="326.93" y2="306.81" stroke="#000" stroke-width="1"/>
<line x1="323.53" y1="297.79" x2="330.32" y2="297.79" stroke="#000" stroke-width="1"/>
<line x1="323.53" y1="306.81" x2="330.32" y2="306.81" stroke="#000" stroke-width="1"/>
<line x1="346.10" y1="253.07" x2="346.10" y2="258.47" stroke="#000" stroke-width="1"/>
<line x1="346.10" y1="263.97" x2="346.10" y2="269.37" stroke="#000" stroke-width="1"/>
<line x1="342.70" y1="253.07" x2="349.50" y2="253.07" stroke="#000" stroke-width="1"/>
<line x1="342.70" y1="269.37" x2="349.50" y2="269.37" stroke="#000" stroke-width="1"/>
<line x1="384.45" y1="236.09" x2="384.45" y2="237.50" stroke="#000" stroke-width="1"/>
<line x1="384.45" y1="243.00" x2="384.45" y2="244.41" stroke="#000" stroke-width="1"/>
<line x1="381.05" y1="236.09" x2="387.85" y2="236.09" stroke="#000" stroke-width="1"/>
<line x1="381.05" y1="244.41" x2="387.85" y2="244.41" stroke="#000" stroke-width="1"/>
<line x1="461.15" y1="222.40" x2="461.15" y2="229.53" stroke="#000" stroke-width="1"/>
<line x1="461.15" y1="235.03" x2="461.15" y2="242.15" stroke="#000" stroke-width="1"/>
<line x1="457.75" y1="222.40" x2="464.55" y2="222.40" stroke="#000" stroke-width="1"/>
<line x1="457.75" y1="242.15" x2="464.55" y2="242.15" stroke="#000" stroke-width="1"/>
<circle cx="307.75" cy="323.10" r="2.75" fill="none" stroke="#000" stroke-width="1.2"/>
<circle cx="317.34" cy="309.06" r="2.75" fill="none" stroke="#000" stroke-width="1.2"/>
<circle cx="326.93" cy="302.30" r="2.75" fill="none" stroke="#000" stroke-width="1.2"/>
<circle cx="346.10" cy="261.22" r="2.75" fill="none" stroke="#000" stroke-width="1.2"/>
<circle cx="384.45" cy="240.25" r="2.75" fill="none" stroke="#000" stroke-width="1.2"/>
<circle cx="461.15" cy="232.28" r="2.75" fill="none" stroke="#000" stroke-width="1.2"/>
<polyline points="307.75,323.10 317.34,319.11 326.93,315.99 346.10,314.09 384.45,310.97 461.15,309.75" fill="none" stroke="#000" stroke-width="1.1"/>
<line x1="317.34" y1="318.25" x2="317.34" y2="319.98" stroke="#000" stroke-width="1"/>
<line x1="313.94" y1="318.25" x2="320.74" y2="318.25" stroke="#000" stroke-width="1"/>
<line x1="313.94" y1="319.98" x2="320.74" y2="319.98" stroke="#000" stroke-width="1"/>
<line x1="326.93" y1="314.61" x2="326.93" y2="317.38" stroke="#000" stroke-width="1"/>
<line x1="323.53" y1="314.61" x2="330.32" y2="314.61" stroke="#000" stroke-width="1"/>
<line x1="323.53" y1="317.38" x2="330.32" y2="317.38" stroke="#000" stroke-width="1"/>
<line x1="346.10" y1="312.70" x2="346.10" y2="315.47" stroke="#000" stroke-width="1"/>
<line x1="342.70" y1="312.70" x2="349.50" y2="312.70" stroke="#000" stroke-width="1"/>
<line x1="342.70" y1="315.47" x2="349.50" y2="315.47" stroke="#000" stroke-width="1"/>
<line x1="384.45" y1="309.58" x2="384.45" y2="312.35" stroke="#000" stroke-width="1"/>
<line x1="381.05" y1="309.58" x2="387.85" y2="309.58" stroke="#000" stroke-width="1"/>
<line x1="381.05" y1="312.35" x2="387.85" y2="312.35" stroke="#000" stroke-width="1"/>
<line x1="461.15" y1="308.37" x2="461.15" y2="311.14" stroke="#000" stroke-width="1"/>
<line x1="457.75" y1="308.37" x2="464.55" y2="308.37" stroke="#000" stroke-width="1"/>
<line x1="457.75" y1="311.14" x2="464.55" y2="311.14" stroke="#000" stroke-width="1"/>
<rect x="304.60" y="319.95" width="6.30" height="6.30" fill="#000" stroke="none" stroke-width="0"/>
<rect x="314.19" y="315.96" width="6.30" height="6.30" fill="#000" stroke="none" stroke-width="0"/>
<rect x="323.78" y="312.84" width="6.30" height="6.30" fill="#000" stroke="none" stroke-width="0"/>
<rect x="342.95" y="310.94" width="6.30" height="6.30" fill="#000" stroke="none" stroke-width="0"/>
<rect x="381.30" y="307.82" width="6.30" height="6.30" fill="#000" stroke="none" stroke-width="0"/>
<rect x="458.00" y="306.60" width="6.30" height="6.30" fill="#000" stroke="none" stroke-width="0"/>
<polyline points="307.75,323.10 317.34,320.50 326.93,317.90 346.10,315.99 384.45,312.87 461.15,313.22" fill="none" stroke="#000" stroke-width="1.1"/>
<line x1="317.34" y1="319.63" x2="317.34" y2="321.37" stroke="#000" stroke-width="1"/>
<line x1="313.94" y1="319.63" x2="320.74" y2="319.63" stroke="#000" stroke-width="1"/>
<line x1="313.94" y1="321.37" x2="320.74" y2="321.37" stroke="#000" stroke-width="1"/>
<line x1="326.93" y1="316.86" x2="326.93" y2="318.94" stroke="#000" stroke-width="1"/>
<line x1="323.53" y1="316.86" x2="330.32" y2="316.86" stroke="#000" stroke-width="1"/>
<line x1="323.53" y1="318.94" x2="330.32" y2="318.94" stroke="#000" stroke-width="1"/>
<line x1="346.10" y1="314.78" x2="346.10" y2="317.21" stroke="#000" stroke-width="1"/>
<line x1="342.70" y1="314.78" x2="349.50" y2="314.78" stroke="#000" stroke-width="1"/>
<line x1="342.70" y1="317.21" x2="349.50" y2="317.21" stroke="#000" stroke-width="1"/>
<line x1="384.45" y1="311.66" x2="384.45" y2="314.09" stroke="#000" stroke-width="1"/>
<line x1="381.05" y1="311.66" x2="387.85" y2="311.66" stroke="#000" stroke-width="1"/>
<line x1="381.05" y1="314.09" x2="387.85" y2="314.09" stroke="#000" stroke-width="1"/>
<line x1="461.15" y1="312.01" x2="461.15" y2="314.43" stroke="#000" stroke-width="1"/>
<line x1="457.75" y1="312.01" x2="464.55" y2="312.01" stroke="#000" stroke-width="1"/>
<line x1="457.75" y1="314.43" x2="464.55" y2="314.43" stroke="#000" stroke-width="1"/>
<circle cx="307.75" cy="323.10" r="3.15" fill="#000"/>
<circle cx="317.34" cy="320.50" r="3.15" fill="#000"/>
<circle cx="326.93" cy="317.90" r="3.15" fill="#000"/>
<circle cx="346.10" cy="315.99" r="3.15" fill="#000"/>
<circle cx="384.45" cy="312.87" r="3.15" fill="#000"/>
<circle cx="461.15" cy="313.22" r="3.15" fill="#000"/>
<text x="344.70" y="255.10" font-size="14.9" font-weight="normal" text-anchor="middle" fill="#222" font-family="Liberation Sans, sans-serif" stroke="#222" stroke-width="0.25">***</text>
<text x="383.10" y="238.10" font-size="14.9" font-weight="normal" text-anchor="middle" fill="#222" font-family="Liberation Sans, sans-serif" stroke="#222" stroke-width="0.25">***</text>
<text x="460.20" y="224.40" font-size="14.9" font-weight="normal" text-anchor="middle" fill="#222" font-family="Liberation Sans, sans-serif" stroke="#222" stroke-width="0.25">***</text>
<line x1="312.30" y1="190.80" x2="327.70" y2="190.80" stroke="#000" stroke-width="1.1"/>
<rect x="317.00" y="188.00" width="5.40" height="5.40" fill="#fff" stroke="#000" stroke-width="1.25"/>
<text x="329.70" y="193.70" font-size="8.3" font-weight="normal" text-anchor="start" fill="#000" font-family="Liberation Sans, sans-serif" >wt anti-host</text>
<line x1="312.30" y1="203.00" x2="327.70" y2="203.00" stroke="#000" stroke-width="1.1"/>
<circle cx="319.70" cy="203.00" r="2.75" fill="none" stroke="#000" stroke-width="1.2"/>
<text x="329.70" y="206.10" font-size="8.3" font-weight="normal" text-anchor="start" fill="#000" font-family="Liberation Sans, sans-serif" >IFN<tspan font-size="70%" dy="1.7">γ</tspan><tspan dy="-1.7">R</tspan><tspan font-size="80%" dy="-3.0">-/-</tspan><tspan dy="3.0" dx="1.2"> </tspan>anti-host</text>
<line x1="406.70" y1="189.70" x2="420.80" y2="189.70" stroke="#000" stroke-width="1.1"/>
<rect x="410.65" y="186.55" width="6.30" height="6.30" fill="#000" stroke="none" stroke-width="0"/>
<text x="424.00" y="192.30" font-size="8.3" font-weight="normal" text-anchor="start" fill="#000" font-family="Liberation Sans, sans-serif" >wt anti-donor</text>
<line x1="406.70" y1="202.70" x2="420.80" y2="202.70" stroke="#000" stroke-width="1.1"/>
<circle cx="413.80" cy="202.70" r="3.15" fill="#000"/>
<text x="424.00" y="206.00" font-size="8.3" font-weight="normal" text-anchor="start" fill="#000" font-family="Liberation Sans, sans-serif" >IFN<tspan font-size="70%" dy="1.7">γ</tspan><tspan dy="-1.7">R</tspan><tspan font-size="80%" dy="-3.0">-/-</tspan><tspan dy="3.0" dx="2.0"> </tspan>anti-donor</text>
</svg>
</body></html>
